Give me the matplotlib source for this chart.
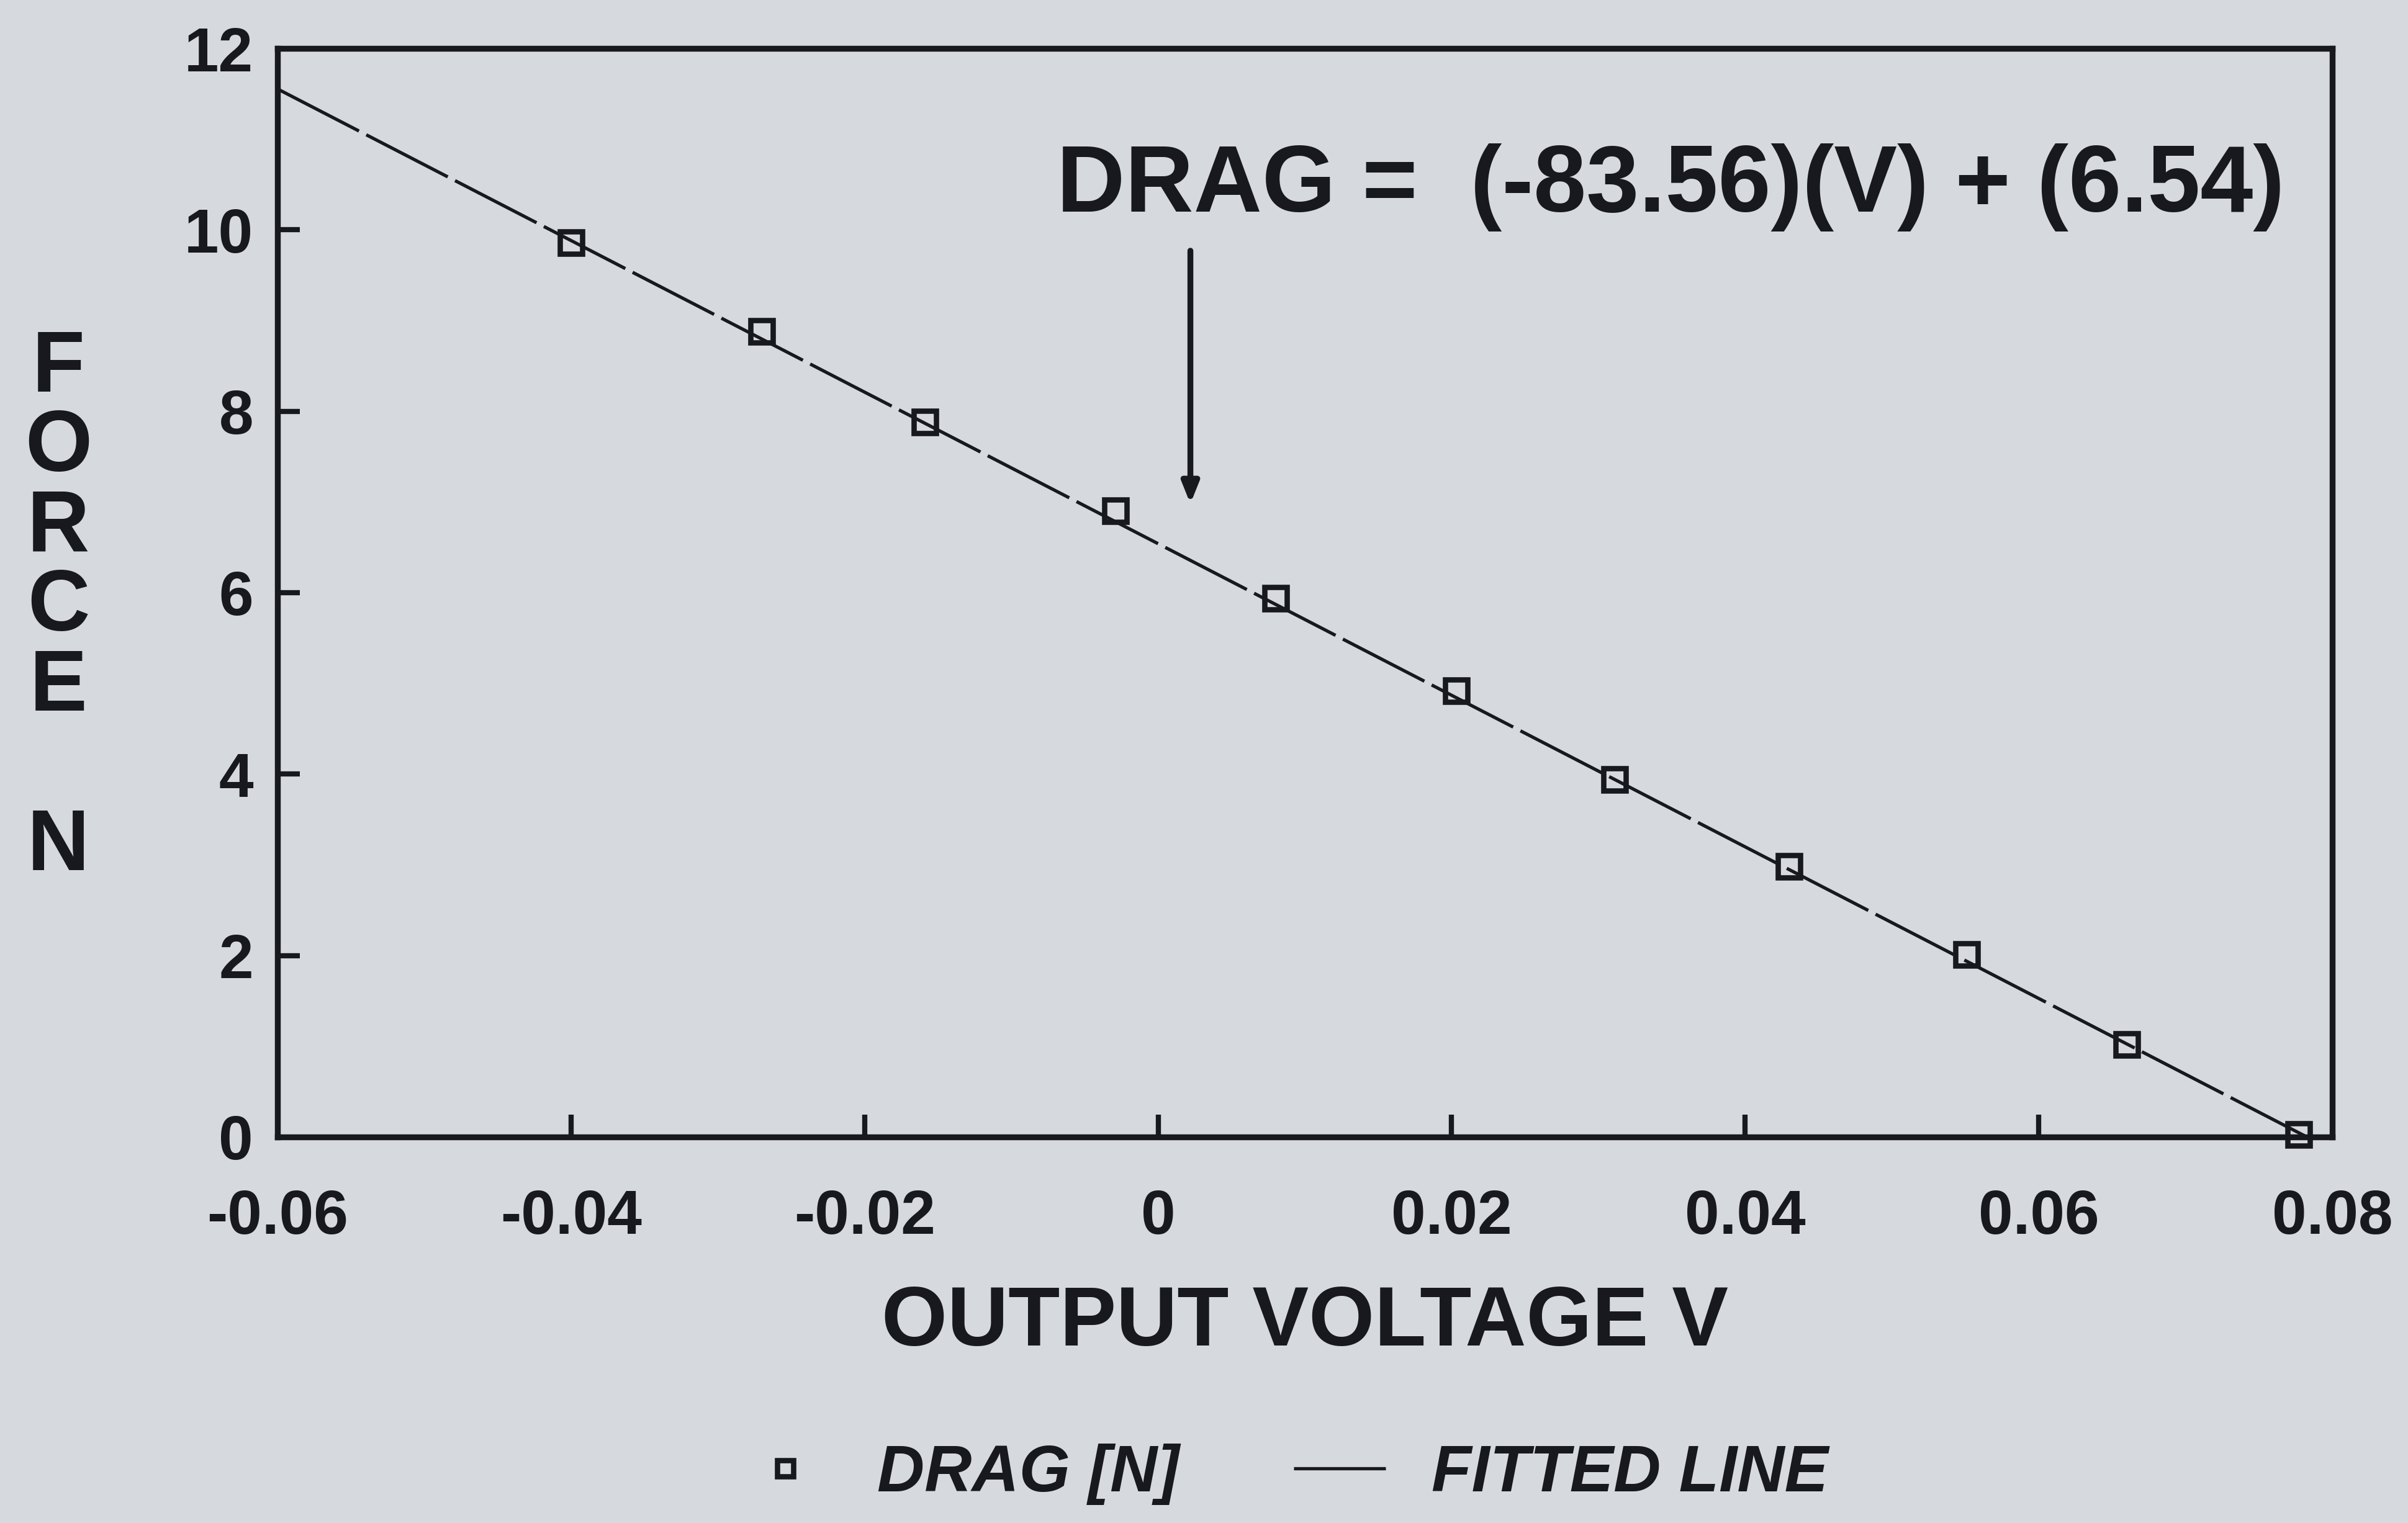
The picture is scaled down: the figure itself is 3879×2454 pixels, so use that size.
import matplotlib
matplotlib.use("Agg")
import matplotlib.pyplot as plt

# ---- data ----
voltage = [-0.0400, -0.0270, -0.0159, -0.0029, 0.0080, 0.0203, 0.0311, 0.0430, 0.0551, 0.0660, 0.0777]
drag = [9.86, 8.88, 7.88, 6.90, 5.94, 4.92, 3.94, 2.98, 2.01, 1.02, 0.03]
fit_slope = -83.56
fit_intercept = 6.54
fit_x = [-0.06, 0.0783]
xticks = [-0.06, -0.04, -0.02, 0, 0.02, 0.04, 0.06, 0.08]
xticklabels = ["-0.06", "-0.04", "-0.02", "0", "0.02", "0.04", "0.06", "0.08"]
yticks = [0, 2, 4, 6, 8, 10, 12]
yticklabels = ["0", "2", "4", "6", "8", "10", "12"]
equation = "DRAG =  (-83.56)(V) + (6.54)"

BG = "#d6d9de"
INK = "#17191f"
FONT = ["Liberation Sans", "DejaVu Sans"]

plt.rcParams["font.family"] = FONT
plt.rcParams["font.weight"] = "bold"

fig = plt.figure(figsize=(19.4, 12.27), dpi=200, facecolor=BG)
ax = fig.add_axes([0.1152, 0.2535, 0.9683 - 0.1152, 0.9682 - 0.2535])
ax.set_facecolor(BG)

fit_y = [fit_slope * v + fit_intercept for v in fit_x]
line, = ax.plot(fit_x, fit_y, color=INK, lw=1.9, dashes=(28, 2.5),
                solid_capstyle="butt", label="FITTED LINE", zorder=2)
pts, = ax.plot(voltage, drag, linestyle="none", marker="s", ms=13, mew=3.1,
               mec=INK, mfc="none", label="DRAG [N]", zorder=3, clip_on=False)

ax.set_xlim(-0.06, 0.08)
ax.set_ylim(0, 12)
ax.set_xticks(xticks)
ax.set_xticklabels(xticklabels)
ax.set_yticks(yticks)
ax.set_yticklabels(yticklabels)

for s in ax.spines.values():
    s.set_linewidth(3.4)
    s.set_color(INK)

ax.tick_params(axis="both", direction="in", length=13, width=3, color=INK,
               labelcolor=INK, labelsize=36, top=False, right=False)
ax.tick_params(axis="x", pad=30)
ax.tick_params(axis="y", pad=14)
for lab in ax.get_xticklabels() + ax.get_yticklabels():
    lab.set_fontweight("bold")
# no ticks at the axis ends in the reference
for t in ax.xaxis.get_major_ticks():
    if t.get_loc() in (-0.06, 0.08):
        t.tick1line.set_visible(False)
for t in ax.yaxis.get_major_ticks():
    if t.get_loc() in (0, 12):
        t.tick1line.set_visible(False)

ax.set_xlabel("OUTPUT VOLTAGE V", fontsize=49, fontweight="bold", color=INK, labelpad=22)

fig.text(0.0243, 0.6005, "F\nO\nR\nC\nE\n\nN", fontsize=50, fontweight="bold",
         color=INK, ha="center", va="center", linespacing=0.985)

ax.text(-0.0069, 10.47, equation, fontsize=55, fontweight="bold", color=INK,
        ha="left", va="center")
ax.annotate("", xy=(0.0022, 6.98), xytext=(0.0022, 9.77),
            arrowprops=dict(arrowstyle="-|>,head_length=1.0,head_width=0.4",
                            color=INK, lw=3.4, shrinkA=0, shrinkB=0))

leg = fig.legend(handles=[pts, line], labels=["DRAG [N]", "FITTED LINE"],
                 loc="center", bbox_to_anchor=(0.533, 0.032), ncol=2, frameon=False,
                 prop=dict(family=FONT, weight="bold", style="italic", size=38),
                 handlelength=1.4, handletextpad=0.7, columnspacing=1.75, markerscale=0.7)
for t in leg.get_texts():
    t.set_color(INK)
leg.legend_handles[1].set_linestyle("-")

fig.savefig("out.png", dpi=200, facecolor=BG)
